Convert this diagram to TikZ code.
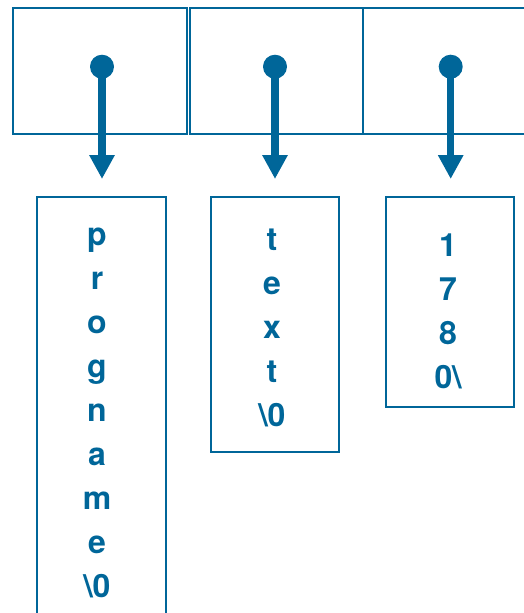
\documentclass[tikz,border=0pt]{standalone}
\usepackage{fontspec}
\setmainfont{texgyreheros}[Extension=.otf, UprightFont=*-regular, BoldFont=*-bold]
\usetikzlibrary{arrows.meta}
\definecolor{ptr}{RGB}{0,102,153}
\tikzset{
  cell/.style={draw=ptr, line width=2pt, inner sep=0pt, anchor=north west},
  dot/.style={circle, fill=ptr, inner sep=0pt, minimum size=24pt},
  ptrarrow/.style={draw=ptr, line width=7.5pt, -{Triangle[width=24pt,length=24pt]}, shorten <=0pt},
  chars/.style={text=ptr, align=center, anchor=base, inner sep=0pt,
    font=\fontsize{32}{44}\selectfont\bfseries}
}
\begin{document}
\begin{tikzpicture}[x=1pt,y=-1pt]
\useasboundingbox (0,0) rectangle (523,613);
% top cells
\node[cell, minimum width=173.4pt, minimum height=126pt] (c1) at (12.3,6.7) {};
\node[cell, minimum width=173pt, minimum height=126pt] (c2) at (188.7,6.7) {};
\node[cell, minimum width=180pt, minimum height=126pt] (c3) at (361.7,6.7) {};
% string boxes
\node[cell, minimum width=129pt, minimum height=440pt] (sA) at (35.8,195.5) {};
\node[cell, minimum width=128pt, minimum height=255pt] (sB) at (210,195.8) {};
\node[cell, minimum width=128pt, minimum height=210pt] (sC) at (385,195.8) {};
% texts (anchored at the baseline of the last line)
\node[chars] (tA) at (97,597) {p\\r\\o\\g\\n\\a\\m\\e\\\textbackslash 0};
\node[chars] (tB) at (272,426) {t\\e\\x\\t\\\textbackslash 0};
\node[chars] (tC) at (448,388) {1\\7\\8\\0\textbackslash};
% pointers
\node[dot] (d1) at (102,66.7) {};
\node[dot] (d2) at (275,66.7) {};
\node[dot] (d3) at (450.7,66.7) {};
\coordinate (e1) at (102,179);
\coordinate (e2) at (275,179);
\coordinate (e3) at (450.7,179);
\draw[ptrarrow] (d1.center) -- (e1);
\draw[ptrarrow] (d2.center) -- (e2);
\draw[ptrarrow] (d3.center) -- (e3);
\end{tikzpicture}
\end{document}
